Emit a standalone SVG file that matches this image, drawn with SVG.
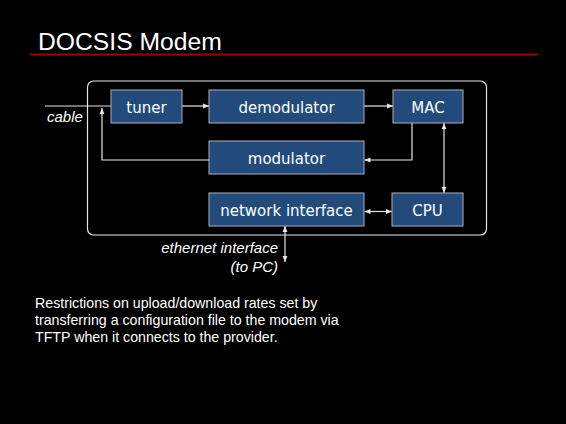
<svg xmlns="http://www.w3.org/2000/svg" width="566" height="424" viewBox="0 0 566 424">
<defs>
<style>
.box{fill:#224b7c;stroke:#aab0ba;stroke-width:1}
.lbl{font-family:"DejaVu Sans",Verdana,sans-serif;font-size:15px;fill:#ffffff;text-anchor:middle}
.ln{fill:none;stroke:#e6e6e6;stroke-width:1.2}
.it{font-family:"Liberation Sans",Arial,sans-serif;font-style:italic;font-size:15px;fill:#ffffff}
.body{font-family:"Liberation Sans",Arial,sans-serif;font-size:14.2px;fill:#ffffff}
</style>
<marker id="ah" viewBox="0 0 10 10" refX="10" refY="5" markerWidth="5" markerHeight="5" orient="auto-start-reverse">
<path d="M0,1 L10,5 L0,9 z" fill="#e6e6e6"/>
</marker>
</defs>
<rect width="566" height="424" fill="#000000"/>
<text x="38" y="50" font-family="Liberation Sans,Arial,sans-serif" font-size="24.7" fill="#ffffff">DOCSIS Modem</text>
<line x1="30" y1="54.5" x2="538" y2="54.5" stroke="#990000" stroke-width="2"/>
<rect x="87.5" y="81" width="399" height="154" rx="6" fill="none" stroke="#e6e6e6" stroke-width="1.2"/>
<g id="connectors">
<line class="ln" x1="45" y1="106" x2="111" y2="106"/>
<polyline class="ln" points="209,160 102,160 102,108" marker-end="url(#ah)"/>
<line class="ln" x1="182" y1="106" x2="209" y2="106" marker-end="url(#ah)"/>
<line class="ln" x1="364" y1="106" x2="393" y2="106" marker-end="url(#ah)"/>
<polyline class="ln" points="412,123 412,160 364.5,160" marker-end="url(#ah)"/>
<line class="ln" x1="444" y1="123" x2="444" y2="193" marker-start="url(#ah)" marker-end="url(#ah)"/>
<line class="ln" x1="364.5" y1="211.5" x2="392" y2="211.5" marker-start="url(#ah)" marker-end="url(#ah)"/>
<line class="ln" x1="285" y1="226" x2="285" y2="262" marker-start="url(#ah)" marker-end="url(#ah)"/>
</g>
<g id="tuner"><rect class="box" x="111" y="90" width="71" height="33"/><text class="lbl" x="146.5" y="113">tuner</text></g>
<g id="demodulator"><rect class="box" x="209" y="90" width="155" height="33"/><text class="lbl" x="286.5" y="113">demodulator</text></g>
<g id="mac"><rect class="box" x="393" y="90" width="70" height="33"/><text class="lbl" x="428" y="113">MAC</text></g>
<g id="modulator"><rect class="box" x="209" y="141" width="155" height="33"/><text class="lbl" x="286.5" y="164">modulator</text></g>
<g id="network-interface"><rect class="box" x="209" y="193" width="155" height="33"/><text class="lbl" x="286.5" y="215.5">network interface</text></g>
<g id="cpu"><rect class="box" x="392" y="193" width="71" height="33"/><text class="lbl" x="427.5" y="215.5">CPU</text></g>
<text class="it" x="47" y="122">cable</text>
<text class="it" x="278" y="253" text-anchor="end">ethernet interface</text>
<text class="it" x="278" y="271.5" text-anchor="end">(to PC)</text>
<text class="body" x="35" y="308">Restrictions on upload/download rates set by</text>
<text class="body" x="35" y="325">transferring a configuration file to the modem via</text>
<text class="body" x="35" y="342">TFTP when it connects to the provider.</text>
</svg>
